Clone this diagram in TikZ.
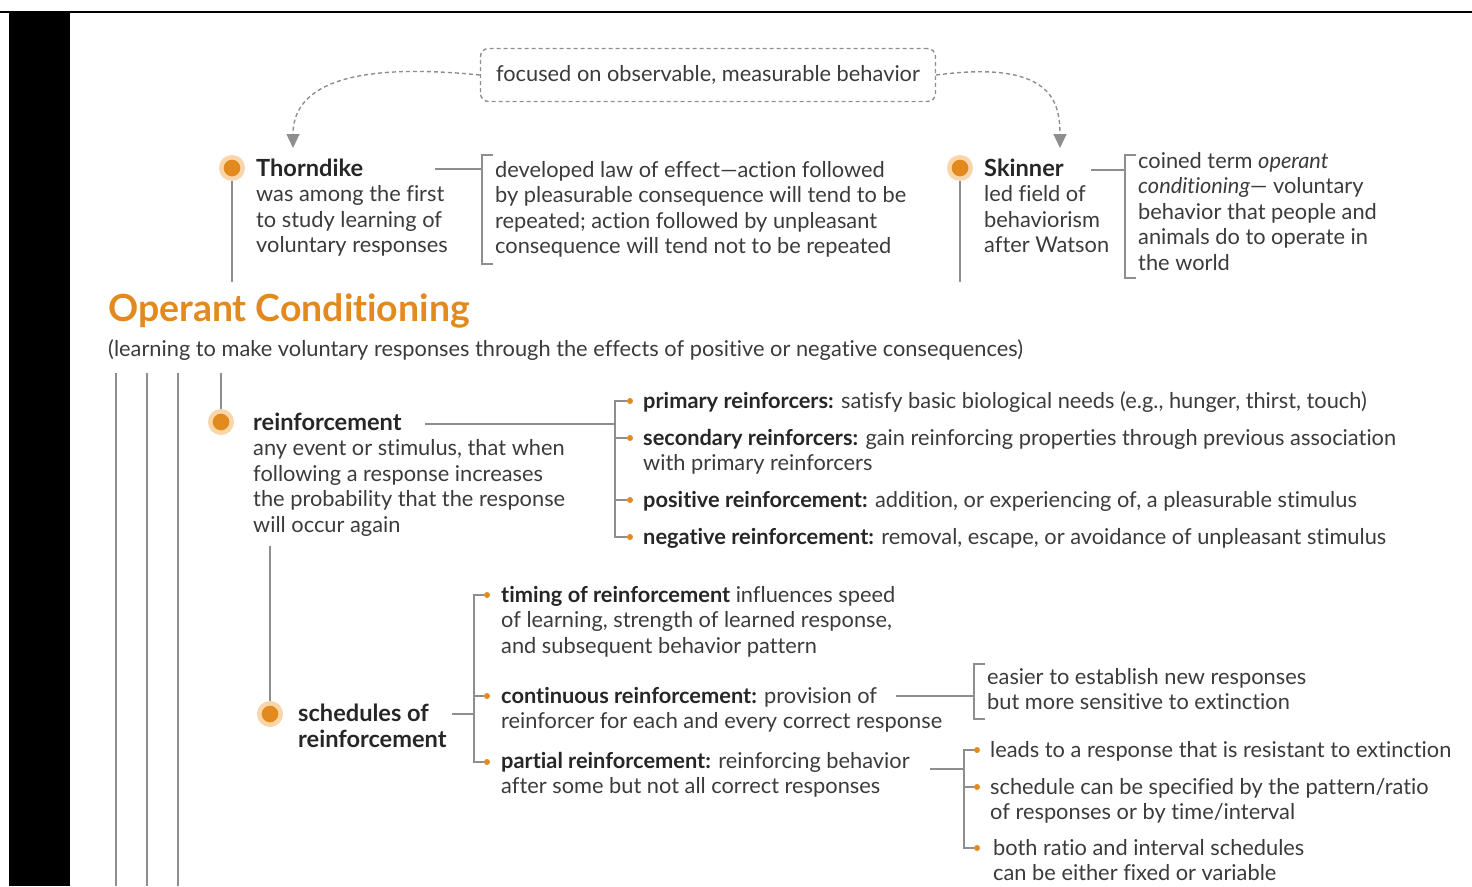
\documentclass[tikz,border=0pt]{standalone}
\usepackage{fontspec}
\setmainfont{Lato}[Ligatures=NoCommon]
\usetikzlibrary{arrows.meta,positioning,calc}
\definecolor{ocorange}{HTML}{E28A1D}
\definecolor{ochalo}{HTML}{F8D6A9}
\definecolor{ocgrey}{HTML}{8E8E8E}
\definecolor{octext}{HTML}{3B3B3B}
\definecolor{ochead}{HTML}{262626}
\newcommand{\bodyfont}{\fontsize{21.8}{25.5}\selectfont}
\newcommand{\headfont}{\fontsize{23.6}{26}\selectfont}
\newcommand{\hd}[1]{{\color{ochead}\bfseries #1}}
\newcommand{\bighd}[1]{{\color{ochead}\headfont\bfseries #1}}

\begin{document}
\begin{tikzpicture}[
  x=1pt, y=-1pt,
  link/.style={draw=ocgrey, line width=1.3pt},
  hint/.style={draw=ocgrey, line width=1.4pt, dash pattern=on 4pt off 3pt},
  bigdot/.style={circle, fill=ocorange, draw=ochalo, line width=4.5pt, minimum size=21.5pt, inner sep=0pt},
  bul/.style={circle, fill=ocorange, minimum size=6pt, inner sep=0pt},
  txt/.style={anchor=north west, inner sep=0pt, align=left, text=octext, font=\bodyfont},
  >={Triangle[length=14pt, width=13pt]}
]
\useasboundingbox (0,0) rectangle (1472,886);
\fill[black] (9,13) rectangle (70,886);
\draw[line width=2pt] (0,12) -- (1472,12);

% top: behaviourists
\node[draw=ocgrey, dash pattern=on 4pt off 3pt, line width=1.4pt, rounded corners=8pt,
  minimum width=455pt, minimum height=53pt, text=octext, font=\bodyfont] (focus) at (708,75) {focused on observable, measurable behavior};

\node[bigdot] (thdot) at (232,168) {};
\node[txt] (thd) at (256,158) {\strut\bighd{Thorndike}\\was among the first\\to study learning of\\voluntary responses};
\node[txt] (law) at (495,159) {\strut developed law of effect---action followed\\by pleasurable consequence will tend to be\\repeated; action followed by unpleasant\\consequence will tend not to be repeated};

\node[bigdot] (skdot) at (960,168) {};
\node[txt] (skn) at (984,158) {\strut\bighd{Skinner}\\led field of\\behaviorism\\after Watson};
\node[txt] (coin) at (1138,150) {\strut coined term \textit{operant}\\\textit{conditioning}--- voluntary\\behavior that people and\\animals do to operate in\\the world};

\coordinate (thdarr) at (293,148);
\coordinate (skarr) at (1060,148);
\draw[hint, ->] (focus.west) .. controls (330,60) and (293,95) .. (thdarr);
\draw[hint, ->] (focus.east) .. controls (1050,60) and (1060,100) .. (skarr);

\coordinate (thdend) at (232,282);
\coordinate (skend) at (960,282);
\draw[link] (thdot) -- (thdend);
\draw[link] (skdot) -- (skend);

\coordinate (thdout) at (435,169);
\coordinate (lawbr) at (482,169);
\coordinate (lawtop) at (493,155);
\coordinate (lawbot) at (493,264);
\draw[link] (thdout) -- (lawbr);
\draw[link] (lawtop) -| (lawbr) |- (lawbot);

\coordinate (sknout) at (1091,170);
\coordinate (coinbr) at (1125,170);
\coordinate (cointop) at (1136,155);
\coordinate (coinbot) at (1136,278);
\draw[link] (sknout) -- (coinbr);
\draw[link] (cointop) -| (coinbr) |- (coinbot);

% title
\node[anchor=base west, inner sep=0pt, text=ocorange, font=\fontsize{37.4}{42}\selectfont\bfseries] (title) at (108,321) {Operant Conditioning};
\node[txt] (sub) at (108,338) {\strut(learning to make voluntary responses through the effects of positive or negative consequences)};

\foreach \x in {116,147,178}
  \draw[link] (\x,373) -- (\x,886);

% reinforcement
\node[bigdot] (rdot) at (221,422) {};
\node[txt] (rnf) at (253,412) {\strut\bighd{reinforcement}\\any event or stimulus, that when\\following a response increases\\the probability that the response\\will occur again};
\coordinate (rnftop) at (221,373);
\draw[link] (rnftop) -- (rdot);

\node[bul] (pr1) at (630,401) {};
\node[bul] (pr2) at (630,438) {};
\node[bul] (pr3) at (630,500) {};
\node[bul] (pr4) at (630,537) {};
\node[txt] (prim) at (643,390) {\strut\hd{primary reinforcers:} satisfy basic biological needs (e.g., hunger, thirst, touch)};
\node[txt] (sec) at (643,427) {\strut\hd{secondary reinforcers:} gain reinforcing properties through previous association\\with primary reinforcers};
\node[txt] (pos) at (643,489) {\strut\hd{positive reinforcement:} addition, or experiencing of, a pleasurable stimulus};
\node[txt] (neg) at (643,526) {\strut\hd{negative reinforcement:} removal, escape, or avoidance of unpleasant stimulus};

\coordinate (rnfout) at (425,424);
\coordinate (rnfbr) at (615,424);
\draw[link] (rnfout) -- (rnfbr);
\draw[link] (pr1) -| (rnfbr) |- (pr4);
\draw[link] (pr2) -| (rnfbr);
\draw[link] (pr3) -| (rnfbr);

% schedules
\node[bigdot] (sdot) at (270,714) {};
\node[txt, font=\headfont\bfseries, text=ochead] (sch) at (298,703) {\strut schedules of\\reinforcement};
\coordinate (rnfend) at (270,546);
\draw[link] (rnfend) -- (sdot);

\node[bul] (sb1) at (487,595) {};
\node[bul] (sb2) at (487,696) {};
\node[bul] (sb3) at (487,762) {};
\node[txt] (tim) at (501,584) {\strut\hd{timing of reinforcement} influences speed\\of learning, strength of learned response,\\and subsequent behavior pattern};
\node[txt] (cont) at (501,685) {\strut\hd{continuous reinforcement:} provision of\\reinforcer for each and every correct response};
\node[txt] (part) at (501,750) {\strut\hd{partial reinforcement:} reinforcing behavior\\after some but not all correct responses};

\coordinate (schout) at (452,714);
\coordinate (schbr) at (474,714);
\draw[link] (schout) -- (schbr);
\draw[link] (sb1) -| (schbr) |- (sb3);
\draw[link] (sb2) -| (schbr);

% continuous
\node[txt] (easy) at (987,666) {\strut easier to establish new responses\\but more sensitive to extinction};
\coordinate (contout) at (896,696);
\coordinate (contbr) at (974,696);
\coordinate (easytop) at (985,664);
\coordinate (easybot) at (985,719);
\draw[link] (contout) -- (contbr);
\draw[link] (easytop) -| (contbr) |- (easybot);

% partial
\node[bul] (pb1) at (977,750) {};
\node[bul] (pb2) at (977,787) {};
\node[bul] (pb3) at (977,848) {};
\node[txt] (lead) at (990,739) {\strut leads to a response that is resistant to extinction};
\node[txt] (spec) at (990,776) {\strut schedule can be specified by the pattern/ratio\\of responses or by time/interval};
\node[txt] (both) at (993,837) {\strut both ratio and interval schedules\\can be either fixed or variable};
\coordinate (partout) at (930,769);
\coordinate (partbr) at (964,769);
\draw[link] (partout) -- (partbr);
\draw[link] (pb1) -| (partbr) |- (pb3);
\draw[link] (pb2) -| (partbr);
\end{tikzpicture}
\end{document}
